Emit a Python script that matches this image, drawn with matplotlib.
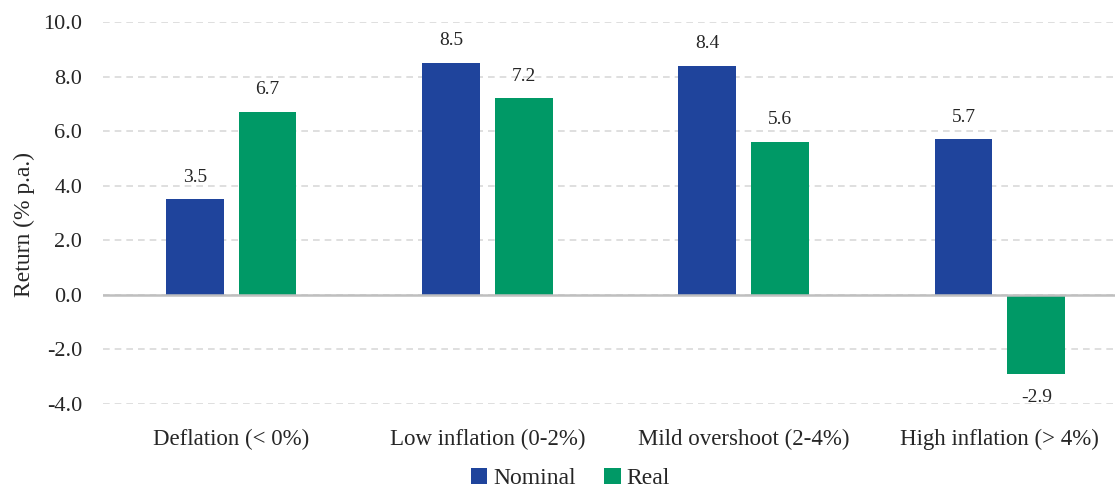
import numpy as np
import matplotlib.pyplot as plt

plt.rcParams['font.family'] = ['Liberation Serif', 'DejaVu Serif']

categories = ['Deflation (< 0%)', 'Low inflation (0-2%)', 'Mild overshoot (2-4%)', 'High inflation (> 4%)']
nominal = [3.5, 8.5, 8.4, 5.7]
real = [6.7, 7.2, 5.6, -2.9]
yticks = [-4.0, -2.0, 0.0, 2.0, 4.0, 6.0, 8.0, 10.0]

blue = '#1f449c'
green = '#009966'

fig = plt.figure(figsize=(11.15, 4.91), dpi=100)
ax = fig.add_axes([103 / 1115, 1 - 404 / 491, 1025 / 1115, 382 / 491])

x = np.arange(len(categories))
w = 0.226
off = 0.142
b1 = ax.bar(x - off, nominal, w, color=blue, label='Nominal', zorder=3)
b2 = ax.bar(x + off, real, w, color=green, label='Real', zorder=3)

for bars, vals in ((b1, nominal), (b2, real)):
    for bar, v in zip(bars, vals):
        cx = bar.get_x() + bar.get_width() / 2
        if v >= 0:
            ax.annotate(f'{v:.1f}', (cx, v), xytext=(0, 16), textcoords='offset points',
                        ha='center', va='center', fontsize=14, color='#262626')
        else:
            ax.annotate(f'{v:.1f}', (cx, v), xytext=(0, -17), textcoords='offset points',
                        ha='center', va='center', fontsize=14, color='#262626')

ax.set_xlim(-0.5, 3.5)
ax.set_ylim(-4, 10)
ax.set_yticks(yticks)
ax.set_yticklabels([f'{t:.1f}' for t in yticks], fontsize=16, color='#262626')
ax.set_xticks(x)
ax.set_xticklabels(categories, fontsize=16.5, color='#262626')
ax.tick_params(axis='both', length=0)
ax.tick_params(axis='x', pad=18)
ax.tick_params(axis='y', pad=15)
ax.set_ylabel('Return (% p.a.)', fontsize=17, color='#262626')
ax.yaxis.set_label_coords(-0.066, 0.469)

ax.yaxis.grid(True, color='#d9d9d9', linestyle=(0, (4, 3)), linewidth=1.2, zorder=0)
ax.axhline(0, color='#bfbfbf', linewidth=1.8, zorder=4)
for s in ax.spines.values():
    s.set_visible(False)

ax.legend(loc='center', bbox_to_anchor=(0.456, -0.195), ncol=2, frameon=False,
          fontsize=17, handlelength=0.7, handleheight=0.7, handletextpad=0.25, columnspacing=1.2,
          labelcolor='#262626', borderpad=0.2)

fig.savefig('out.png', dpi=100)
